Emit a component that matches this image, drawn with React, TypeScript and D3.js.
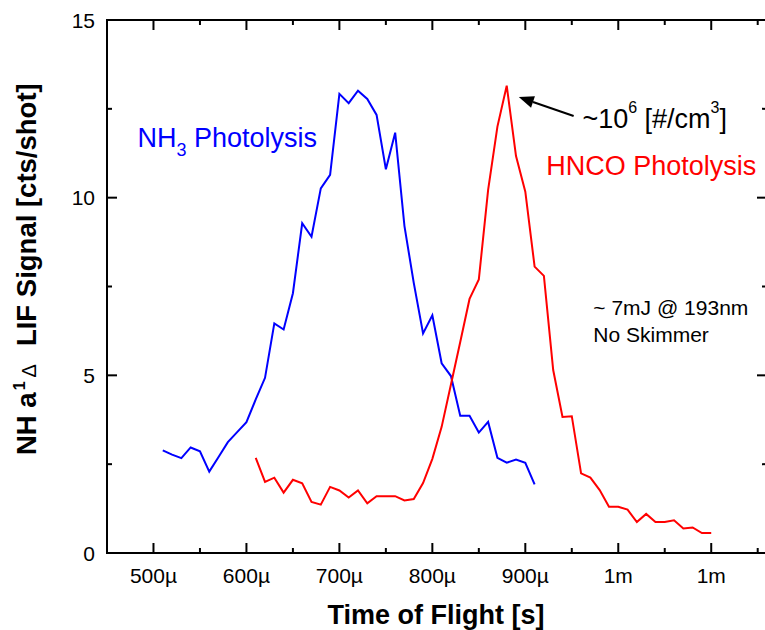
import React from "react";
import * as d3 from "d3";

// Time of flight (µs) and NH a1Δ LIF signal (cts/shot)
const nh3Times = [510, 520, 530, 540, 550, 560, 570, 580, 590, 600, 610, 620, 630, 640, 650, 660, 670, 680, 690, 700, 710, 720, 730, 740, 750, 760, 770, 780, 790, 800, 810, 820, 830, 840, 850, 860, 870, 880, 890, 900, 910];
const nh3Signal = [2.89, 2.77, 2.67, 2.97, 2.86, 2.29, 2.70, 3.12, 3.40, 3.68, 4.32, 4.93, 6.46, 6.29, 7.31, 9.28, 8.90, 10.26, 10.64, 12.92, 12.66, 13.01, 12.78, 12.33, 10.80, 11.83, 9.20, 7.60, 6.18, 6.69, 5.34, 4.98, 3.86, 3.86, 3.39, 3.69, 2.68, 2.54, 2.63, 2.54, 1.93];

const hncoTimes = [610, 620, 630, 640, 650, 660, 670, 680, 690, 700, 710, 720, 730, 740, 750, 760, 770, 780, 790, 800, 810, 820, 830, 840, 850, 860, 870, 880, 890, 900, 910, 920, 930, 940, 950, 960, 970, 980, 990, 1000, 1010, 1020, 1030, 1040, 1050, 1060, 1070, 1080, 1090, 1100];
const hncoSignal = [2.68, 2.00, 2.12, 1.70, 2.06, 1.96, 1.44, 1.36, 1.86, 1.76, 1.56, 1.76, 1.40, 1.60, 1.60, 1.60, 1.48, 1.52, 1.97, 2.65, 3.55, 4.74, 5.94, 7.15, 7.70, 10.22, 12.00, 13.15, 11.17, 10.17, 8.06, 7.80, 5.15, 3.83, 3.85, 2.24, 2.12, 1.77, 1.30, 1.30, 1.22, 0.87, 1.10, 0.87, 0.87, 0.92, 0.69, 0.72, 0.56, 0.56];

const xMajorTicks = [500, 600, 700, 800, 900, 1000, 1100];
const xTickLabels = ["500µ", "600µ", "700µ", "800µ", "900µ", "1m", "1m"];
const xMinorTicks = [550, 650, 750, 850, 950, 1050, 1150];
const yMajorTicks = [0, 5, 10, 15];
const yTickLabels = ["0", "5", "10", "15"];
const yMinorTicks = [2.5, 7.5, 12.5];

const W = 765;
const H = 630;
const FONT = "Arial, 'Liberation Sans', Helvetica, sans-serif";

export default function App() {
  const x = d3.scaleLinear().domain([450, 1160]).range([107, 767]);
  const y = d3.scaleLinear().domain([0, 15]).range([553, 20]);
  const [x0, x1] = x.range();
  const [y0, y1] = y.range();

  const line = d3
    .line<[number, number]>()
    .x((d) => x(d[0]))
    .y((d) => y(d[1]));

  const nh3 = nh3Times.map((t, i) => [t, nh3Signal[i]] as [number, number]);
  const hnco = hncoTimes.map((t, i) => [t, hncoSignal[i]] as [number, number]);

  const MAJ = 10;
  const MIN = 5;

  // arrow (data coords)
  const ax1 = x(952), ay1 = y(12.3);
  const ax2 = x(893), ay2 = y(12.83);
  const ang = Math.atan2(ay2 - ay1, ax2 - ax1);
  const headL = 15, headW = 6;
  const bx = ax2 - headL * Math.cos(ang), by = ay2 - headL * Math.sin(ang);
  const head = [
    [ax2, ay2],
    [bx + headW * Math.sin(ang), by - headW * Math.cos(ang)],
    [bx - headW * Math.sin(ang), by + headW * Math.cos(ang)],
  ]
    .map((p) => p.join(","))
    .join(" ");

  return (
    <svg
      width={W}
      height={H}
      viewBox={`0 0 ${W} ${H}`}
      style={{ position: "absolute", left: 0, top: 0, background: "#fff" }}
      fontFamily={FONT}
    >
      <rect x={0} y={0} width={W} height={H} fill="#fff" />

      {/* data */}
      <path d={line(nh3) || ""} fill="none" stroke="#0000ff" strokeWidth={2} strokeLinejoin="miter" />
      <path d={line(hnco) || ""} fill="none" stroke="#ff0000" strokeWidth={2} strokeLinejoin="miter" />

      {/* frame */}
      <rect x={x0} y={y1} width={x1 - x0} height={y0 - y1} fill="none" stroke="#000" strokeWidth={2} />

      {/* x ticks bottom & top */}
      {xMajorTicks.map((t) => (
        <g key={"xM" + t}>
          <line x1={x(t)} x2={x(t)} y1={y0} y2={y0 - MAJ} stroke="#000" strokeWidth={2} />
          <line x1={x(t)} x2={x(t)} y1={y1} y2={y1 + MAJ} stroke="#000" strokeWidth={2} />
        </g>
      ))}
      {xMinorTicks.map((t) => (
        <g key={"xm" + t}>
          <line x1={x(t)} x2={x(t)} y1={y0} y2={y0 - MIN} stroke="#000" strokeWidth={2} />
          <line x1={x(t)} x2={x(t)} y1={y1} y2={y1 + MIN} stroke="#000" strokeWidth={2} />
        </g>
      ))}
      {xMajorTicks.map((t, i) => (
        <text key={"xl" + t} x={x(t)} y={583} textAnchor="middle" fontSize={21} fill="#000">
          {xTickLabels[i]}
        </text>
      ))}

      {/* y ticks left & right */}
      {yMajorTicks.map((t) => (
        <g key={"yM" + t}>
          <line x1={x0} x2={x0 + MAJ} y1={y(t)} y2={y(t)} stroke="#000" strokeWidth={2} />
          <line x1={x1} x2={x1 - MAJ} y1={y(t)} y2={y(t)} stroke="#000" strokeWidth={2} />
        </g>
      ))}
      {yMinorTicks.map((t) => (
        <g key={"ym" + t}>
          <line x1={x0} x2={x0 + MIN} y1={y(t)} y2={y(t)} stroke="#000" strokeWidth={2} />
          <line x1={x1} x2={x1 - MIN} y1={y(t)} y2={y(t)} stroke="#000" strokeWidth={2} />
        </g>
      ))}
      {yMajorTicks.map((t, i) => (
        <text key={"yl" + t} x={95} y={y(t) + 7.5} textAnchor="end" fontSize={21} fill="#000">
          {yTickLabels[i]}
        </text>
      ))}

      {/* axis titles */}
      <text x={(x0 + 765) / 2} y={624} textAnchor="middle" fontSize={27} fontWeight="bold" fill="#000">
        Time of Flight [s]
      </text>
      <text transform="translate(36,455) rotate(-90)" fontSize={27.5} fontWeight="bold" fill="#000">
        <tspan>NH a</tspan>
        <tspan fontSize={16} dy={-11} dx={2}>1</tspan>
        <tspan fontSize={20} fontWeight="normal" dy={11} dx={4}>Δ</tspan>
        <tspan dx={18}>LIF Signal [cts/shot]</tspan>
      </text>

      {/* annotations */}
      <text x={x(482.7)} y={y(11.42)} fontSize={27} fill="#0000ff">
        NH<tspan fontSize={18} dy={9}>3</tspan>
        <tspan dy={-9}> Photolysis</tspan>
      </text>
      <text x={x(922.6)} y={y(10.64)} fontSize={27} fill="#ff0000">
        HNCO Photolysis
      </text>
      <text x={x(961.4)} y={y(11.97)} fontSize={27} fill="#000">
        ~10<tspan fontSize={16} dy={-15}>6</tspan>
        <tspan dy={15}> [#/cm</tspan>
        <tspan fontSize={16} dy={-15}>3</tspan>
        <tspan dy={15}>]</tspan>
      </text>
      <line x1={ax1} y1={ay1} x2={bx} y2={by} stroke="#000" strokeWidth={2} />
      <polygon points={head} fill="#000" />
      <text x={x(973.2)} y={y(6.69)} fontSize={21} fill="#000">
        ~ 7mJ @ 193nm
      </text>
      <text x={x(973.2)} y={y(5.95)} fontSize={21} fill="#000">
        No Skimmer
      </text>
    </svg>
  );
}
